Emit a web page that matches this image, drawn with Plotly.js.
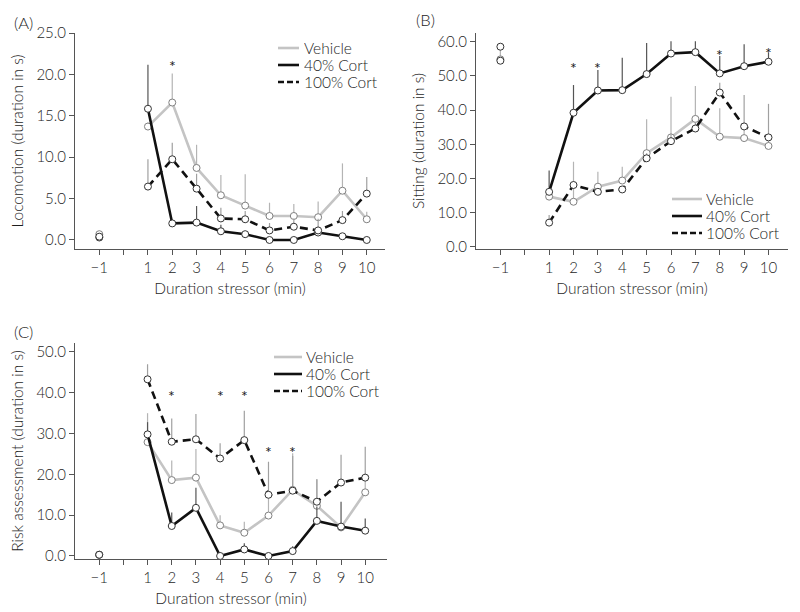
<!DOCTYPE html>
<html><head><meta charset="utf-8">
<script src="https://cdn.plot.ly/plotly-3.0.1.min.js"></script>
<style>html,body{margin:0;padding:0;background:#fff;} #chart{width:800px;height:612px;}</style>
</head><body><div id="chart"></div>
<script>
// ---------- data ----------
const minutes = [1, 2, 3, 4, 5, 6, 7, 8, 9, 10];
const xTickVals = [-1, 0, 1, 2, 3, 4, 5, 6, 7, 8, 9, 10];
const xTickText = ['\u22121', '', '1', '2', '3', '4', '5', '6', '7', '8', '9', '10'];
const seriesNames = ['Vehicle', '40% Cort', '100% Cort'];
const panelLabels = ['(A)', '(B)', '(C)'];
const yTitles = ['Locomotion (duration in s)', 'Sitting (duration in s)', 'Risk assessment (duration in s)'];
const xTitle = 'Duration stressor (min)';
const yTicksA = [0, 5, 10, 15, 20, 25];
const yTicksB = [0, 10, 20, 30, 40, 50, 60];
const yTicksC = [0, 10, 20, 30, 40, 50];

// Panel A: Locomotion (baseline at -1, then minutes 1..10)
const vehA_base = 0.7, vehA_baseErr = 0.3;
const vehA = [13.7, 16.6, 8.7, 5.4, 4.15, 2.9, 2.9, 2.75, 5.95, 2.5];
const vehA_err = [0.5, 3.5, 2.8, 2.45, 3.8, 1.6, 1.45, 1.9, 3.3, 0.9];
const c40A_base = 0.3, c40A_baseErr = 0;
const c40A = [15.85, 2.0, 2.1, 1.05, 0.7, 0.0, 0.0, 0.9, 0.45, 0.0];
const c40A_err = [5.3, 0.3, 2.0, 0.8, 0.3, 0.2, 0.2, 0.4, 0.2, 0.1];
const c100A_base = 0.4, c100A_baseErr = 0;
const c100A = [6.45, 9.75, 6.2, 2.6, 2.5, 1.15, 1.6, 1.15, 2.4, 5.6];
const c100A_err = [3.3, 2.0, 1.8, 1.3, 1.0, 0.9, 1.0, 1.4, 1.1, 2.0];
const starsA_x = [2];
const starsA_y = [21.5];

// Panel B: Sitting
const vehB_base = 54.8, vehB_baseErr = 3.7;
const vehB = [14.7, 13.2, 17.6, 19.4, 27.4, 32.0, 37.4, 32.2, 31.8, 29.5];
const vehB_err = [1.0, 11.7, 4.4, 4.0, 9.9, 11.9, 9.6, 8.3, 3.0, 2.0];
const c40B_base = 58.5, c40B_baseErr = 0;
const c40B = [16.1, 39.2, 45.7, 45.8, 50.5, 56.5, 56.9, 50.7, 52.8, 54.1];
const c40B_err = [6.2, 8.1, 6.0, 9.5, 9.1, 3.6, 3.2, 5.1, 6.4, 2.6];
const c100B_base = 54.4, c100B_baseErr = 0;
const c100B = [7.1, 18.1, 16.1, 16.8, 25.9, 30.9, 34.6, 45.1, 35.2, 32.0];
const c100B_err = [2.2, 1.0, 1.0, 1.0, 1.5, 2.0, 2.0, 2.9, 9.2, 9.8];
const starsB_x = [2, 3, 8, 10];
const starsB_y = [53.7, 53.7, 57.5, 58.1];

// Panel C: Risk assessment
const vehC_base = 0.3, vehC_baseErr = 0;
const vehC = [27.9, 18.6, 19.2, 7.5, 5.7, 9.9, 16.2, 12.3, 7.0, 15.6];
const vehC_err = [7.1, 4.8, 7.0, 2.5, 2.7, 5.5, 9.0, 6.5, 1.0, 3.0];
const c40C_base = 0.3, c40C_baseErr = 0;
const c40C = [29.8, 7.35, 11.8, 0.0, 1.6, 0.0, 1.2, 8.6, 7.2, 6.2];
const c40C_err = [3.0, 3.3, 4.9, 0.3, 1.5, 0.3, 1.2, 3.5, 6.1, 3.0];
const c100C_base = 0.3, c100C_baseErr = 0;
const c100C = [43.3, 28.0, 28.6, 23.9, 28.4, 15.0, 16.0, 13.3, 18.0, 19.2];
const c100C_err = [3.7, 5.7, 6.2, 3.7, 7.2, 8.1, 8.5, 5.5, 6.8, 7.6];
const starsC_x = [2, 4, 5, 6, 7];
const starsC_y = [40.3, 40.3, 40.3, 26.7, 26.7];

// ---------- styles ----------
const W = 800, H = 612;
const FONT = 'Lato, "Open Sans", sans-serif';
const TXT = '#1e1e1e';
const WT = 300;
const styles = [
  {line: {color: '#c4c4c4', width: 2.6}, mk: '#808080', err: '#b4b4b4'},
  {line: {color: '#111111', width: 2.6}, mk: '#333333', err: '#555555'},
  {line: {color: '#111111', width: 2.6, dash: '8px,5px'}, mk: '#333333', err: '#a0a0a0'}
];

function mkTrace(si, base, baseErr, vals, errs, xa, ya) {
  const st = styles[si];
  const x = [-1, 0].concat(minutes);
  const y = [base, null].concat(vals);
  const e = [baseErr, 0].concat(errs);
  return {
    type: 'scatter', mode: 'lines+markers', name: seriesNames[si],
    x: x, y: y, xaxis: xa, yaxis: ya, showlegend: false, connectgaps: false,
    line: st.line,
    marker: {symbol: 'circle', size: 7, color: '#ffffff', line: {color: st.mk, width: 1}},
    error_y: {type: 'data', symmetric: false, array: e, arrayminus: e.map(() => 0),
              color: st.err, thickness: 1.2, width: 0},
    cliponaxis: false
  };
}

const data = [
  mkTrace(0, vehA_base, vehA_baseErr, vehA, vehA_err, 'x', 'y'),
  mkTrace(1, c40A_base, c40A_baseErr, c40A, c40A_err, 'x', 'y'),
  mkTrace(2, c100A_base, c100A_baseErr, c100A, c100A_err, 'x', 'y'),
  mkTrace(0, vehB_base, vehB_baseErr, vehB, vehB_err, 'x2', 'y2'),
  mkTrace(1, c40B_base, c40B_baseErr, c40B, c40B_err, 'x2', 'y2'),
  mkTrace(2, c100B_base, c100B_baseErr, c100B, c100B_err, 'x2', 'y2'),
  mkTrace(0, vehC_base, vehC_baseErr, vehC, vehC_err, 'x3', 'y3'),
  mkTrace(1, c40C_base, c40C_baseErr, c40C, c40C_err, 'x3', 'y3'),
  mkTrace(2, c100C_base, c100C_baseErr, c100C, c100C_err, 'x3', 'y3')
];

function xAxis(px0, px1, r1, anchor) {
  return {
    domain: [px0 / W, px1 / W], range: [-2, r1], anchor: anchor,
    tickvals: xTickVals, ticktext: xTickText, ticks: 'outside', ticklen: 5, tickwidth: 1,
    tickcolor: '#555', showline: true, linecolor: '#555', linewidth: 1,
    showgrid: false, zeroline: false, fixedrange: true,
    tickfont: {family: FONT, size: 15, color: TXT, weight: WT},
    title: {text: xTitle, font: {family: FONT, size: 15.5, color: TXT, weight: WT}, standoff: 8}
  };
}
function yAxis(py0, py1, range, ticks, title, anchor) {
  return {
    domain: [1 - py1 / H, 1 - py0 / H], range: range, anchor: anchor,
    tickvals: ticks, tickformat: '.1f', ticks: 'outside', ticklen: 5, tickwidth: 1,
    tickcolor: '#555', showline: true, linecolor: '#555', linewidth: 1,
    showgrid: false, zeroline: false, fixedrange: true,
    tickfont: {family: FONT, size: 15, color: TXT, weight: WT},
    title: {text: title, font: {family: FONT, size: 15.5, color: TXT, weight: WT}, standoff: 8}
  };
}

const annotations = [];
const shapes = [];
function addStars(xs, ys, xr, yr) {
  xs.forEach((xv, i) => annotations.push({
    x: xv, y: ys[i], xref: xr, yref: yr, text: '*', showarrow: false,
    font: {family: FONT, size: 16, color: '#222222'}, yshift: -4
  }));
}
addStars(starsA_x, starsA_y, 'x', 'y');
addStars(starsB_x, starsB_y, 'x2', 'y2');
addStars(starsC_x, starsC_y, 'x3', 'y3');

// panel labels
[[12, 23], [414, 20], [12, 332]].forEach((p, i) => annotations.push({
  x: p[0] / W, y: 1 - p[1] / H, xref: 'paper', yref: 'paper', xanchor: 'left', yanchor: 'middle',
  text: panelLabels[i], showarrow: false, font: {family: FONT, size: 16.5, color: TXT, weight: WT}
}));

// legends (text + line samples)
const legendPos = [
  {l0: 278, l1: 299, tx: 303, rows: [48, 65, 82]},
  {l0: 672, l1: 702, tx: 705, rows: [199, 216, 233]},
  {l0: 274, l1: 302, tx: 305, rows: [357, 374, 391]}
];
legendPos.forEach(lp => {
  lp.rows.forEach((ry, si) => {
    const st = styles[si];
    shapes.push({type: 'line', xref: 'paper', yref: 'paper',
      x0: lp.l0 / W, x1: lp.l1 / W, y0: 1 - ry / H, y1: 1 - ry / H,
      line: {color: st.line.color, width: st.line.width, dash: st.line.dash ? '6px,3px' : 'solid'}});
    annotations.push({x: lp.tx / W, y: 1 - ry / H, xref: 'paper', yref: 'paper',
      xanchor: 'left', yanchor: 'middle', text: seriesNames[si], showarrow: false,
      height: 16, valign: 'middle', borderpad: 0,
      font: {family: FONT, size: 15.5, color: TXT, weight: WT}});
  });
});

const layout = {
  width: W, height: H, margin: {l: 0, r: 0, t: 0, b: 0},
  paper_bgcolor: '#fff', plot_bgcolor: '#fff', showlegend: false,
  font: {family: FONT, color: TXT},
  xaxis: xAxis(75, 385, 10.75, 'y'),
  yaxis: yAxis(33, 249, [-1.09, 25], yTicksA, yTitles[0], 'x'),
  xaxis2: xAxis(476, 788, 10.8, 'y2'),
  yaxis2: yAxis(33, 249, [-0.6, 62.5], yTicksB, yTitles[1], 'x2'),
  xaxis3: xAxis(75, 387, 10.9, 'y3'),
  yaxis3: yAxis(343, 559, [-0.74, 52.2], yTicksC, yTitles[2], 'x3'),
  annotations: annotations, shapes: shapes
};

Plotly.newPlot('chart', data, layout, {staticPlot: true, displayModeBar: false});
</script>
</body></html>
